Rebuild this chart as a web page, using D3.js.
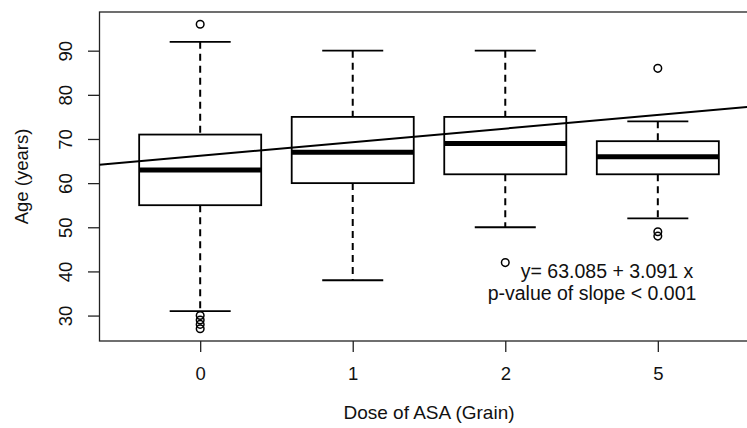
<!DOCTYPE html>
<html>
<head>
<meta charset="utf-8">
<script src="https://cdn.jsdelivr.net/npm/d3@7"></script>
<style>
    body { margin: 0; background: #fff; }
    svg { display: block; font-family: "Liberation Sans", Arial, sans-serif; }
</style>
</head>
<body>
<svg class="asa-box" width="747" height="428"></svg>
<script>
// box stats, one entry per dose group
const categories = ['0', '1', '2', '5']
const q1 = [55, 60, 62, 62]
const medians = [63, 67, 69, 66]
const q3 = [71, 75, 75, 69.5]
const whiskerLow = [31, 38, 50, 52]
const whiskerHigh = [92, 90, 90, 74]
const outliers = [[96, 30, 29, 28, 27], [], [42], [86, 49, 48]]
const yTicks = [30, 40, 50, 60, 70, 80, 90]

// fitted line, x is the group position (1..4)
const intercept = 63.085
const slope = 3.091
const fitText = ['y= 63.085 + 3.091 x', 'p-value of slope < 0.001']

const groups = categories.map((c, i) => ({
    cat: c,
    pos: i + 1,
    q1: q1[i],
    med: medians[i],
    q3: q3[i],
    lo: whiskerLow[i],
    hi: whiskerHigh[i],
    out: outliers[i]
}))

const svg = d3.select('.asa-box')

const plot = { left: 99.5, right: 758.5, top: 12, bottom: 341 }

// R style limits: padded range plus 4% on each side
const n = categories.length
const xPad = (n + 0.5 - 0.5) * 0.04
const x = d3.scaleLinear()
    .domain([0.5 - xPad, n + 0.5 + xPad])
    .range([plot.left, plot.right])

const allVals = groups.flatMap(g => [g.lo, g.hi, ...g.out])
const [yMin, yMax] = d3.extent(allVals)
const yPad = (yMax - yMin) * 0.04
const y = d3.scaleLinear()
    .domain([yMin - yPad, yMax + yPad])
    .range([plot.bottom, plot.top])

const boxHalf = (x(1.4) - x(1))
const capHalf = boxHalf / 2

// frame
svg.append('rect')
    .attr('x', plot.left)
    .attr('y', plot.top)
    .attr('width', plot.right - plot.left)
    .attr('height', plot.bottom - plot.top)
    .attr('fill', 'none')
    .attr('stroke', '#222')
    .attr('stroke-width', 1.3)

// y axis
const yAxis = svg.append('g')
    .attr('transform', `translate(${plot.left},0)`)
    .call(d3.axisLeft(y).tickValues(yTicks).tickSize(11.5).tickSizeOuter(0))
yAxis.select('.domain').remove()
yAxis.selectAll('.tick line').attr('stroke', '#222').attr('stroke-width', 1.3)
yAxis.selectAll('.tick text')
    .attr('x', null).attr('dy', null)
    .attr('transform', 'translate(-27.5,0) rotate(-90)')
    .attr('text-anchor', 'middle')
    .attr('font-size', 18.5)
    .attr('fill', '#111')
    .attr('font-family', '"Liberation Sans", Arial, sans-serif')

// x axis
const xAxis = svg.append('g')
    .attr('transform', `translate(0,${plot.bottom})`)
    .call(d3.axisBottom(x).tickValues(groups.map(g => g.pos))
        .tickFormat((d, i) => categories[i]).tickSize(11).tickSizeOuter(0))
xAxis.select('.domain').remove()
xAxis.selectAll('.tick line').attr('stroke', '#222').attr('stroke-width', 1.3)
xAxis.selectAll('.tick text')
    .attr('y', 39).attr('dy', null)
    .attr('font-size', 18.5)
    .attr('fill', '#111')
    .attr('font-family', '"Liberation Sans", Arial, sans-serif')

// axis titles
svg.append('text')
    .attr('x', (plot.left + plot.right) / 2)
    .attr('y', 419)
    .attr('text-anchor', 'middle')
    .attr('font-size', 19)
    .attr('fill', '#111')
    .text('Dose of ASA (Grain)')

svg.append('text')
    .attr('transform', `translate(28,${(plot.top + plot.bottom) / 2}) rotate(-90)`)
    .attr('text-anchor', 'middle')
    .attr('font-size', 18.5)
    .attr('fill', '#111')
    .text('Age (years)')

// boxes
const box = svg.selectAll('.box')
    .data(groups)
    .enter()
    .append('g')
    .attr('class', 'box')

// dashed whiskers
box.append('line')
    .attr('x1', d => x(d.pos)).attr('x2', d => x(d.pos))
    .attr('y1', d => y(d.hi)).attr('y2', d => y(d.q3))
    .attr('stroke', '#000').attr('stroke-width', 2).attr('stroke-dasharray', '7,5')
box.append('line')
    .attr('x1', d => x(d.pos)).attr('x2', d => x(d.pos))
    .attr('y1', d => y(d.q1)).attr('y2', d => y(d.lo))
    .attr('stroke', '#000').attr('stroke-width', 2).attr('stroke-dasharray', '7,5')

// caps
box.selectAll('.cap')
    .data(d => [d.lo, d.hi].map(v => ({ pos: d.pos, v })))
    .enter()
    .append('line')
    .attr('x1', d => x(d.pos) - capHalf).attr('x2', d => x(d.pos) + capHalf)
    .attr('y1', d => y(d.v)).attr('y2', d => y(d.v))
    .attr('stroke', '#000').attr('stroke-width', 1.8)

box.append('rect')
    .attr('x', d => x(d.pos) - boxHalf)
    .attr('y', d => y(d.q3))
    .attr('width', boxHalf * 2)
    .attr('height', d => y(d.q1) - y(d.q3))
    .attr('fill', '#fff')
    .attr('stroke', '#000')
    .attr('stroke-width', 1.8)

box.append('line')
    .attr('x1', d => x(d.pos) - boxHalf).attr('x2', d => x(d.pos) + boxHalf)
    .attr('y1', d => y(d.med)).attr('y2', d => y(d.med))
    .attr('stroke', '#000').attr('stroke-width', 5)

box.selectAll('.out')
    .data(d => d.out.map(v => ({ pos: d.pos, v })))
    .enter()
    .append('circle')
    .attr('cx', d => x(d.pos))
    .attr('cy', d => y(d.v))
    .attr('r', 3.8)
    .attr('fill', 'none')
    .attr('stroke', '#000')
    .attr('stroke-width', 1.5)

// regression line across the whole plot (abline)
svg.append('clipPath').attr('id', 'plot-clip')
    .append('rect')
    .attr('x', plot.left).attr('y', plot.top)
    .attr('width', plot.right - plot.left).attr('height', plot.bottom - plot.top)

const [x0, x1] = x.domain()
svg.append('line')
    .attr('clip-path', 'url(#plot-clip)')
    .attr('x1', x(x0)).attr('y1', y(intercept + slope * x0))
    .attr('x2', x(x1)).attr('y2', y(intercept + slope * x1))
    .attr('stroke', '#000')
    .attr('stroke-width', 2)

// fit annotation
svg.selectAll('.fit-label')
    .data(fitText)
    .enter()
    .append('text')
    .attr('class', 'fit-label')
    .attr('x', (d, i) => i === 0 ? 607 : 592)
    .attr('y', (d, i) => 278 + i * 22)
    .attr('text-anchor', 'middle')
    .attr('font-size', 19.5)
    .attr('fill', '#111')
    .text(d => d)
</script>
</body>
</html>
